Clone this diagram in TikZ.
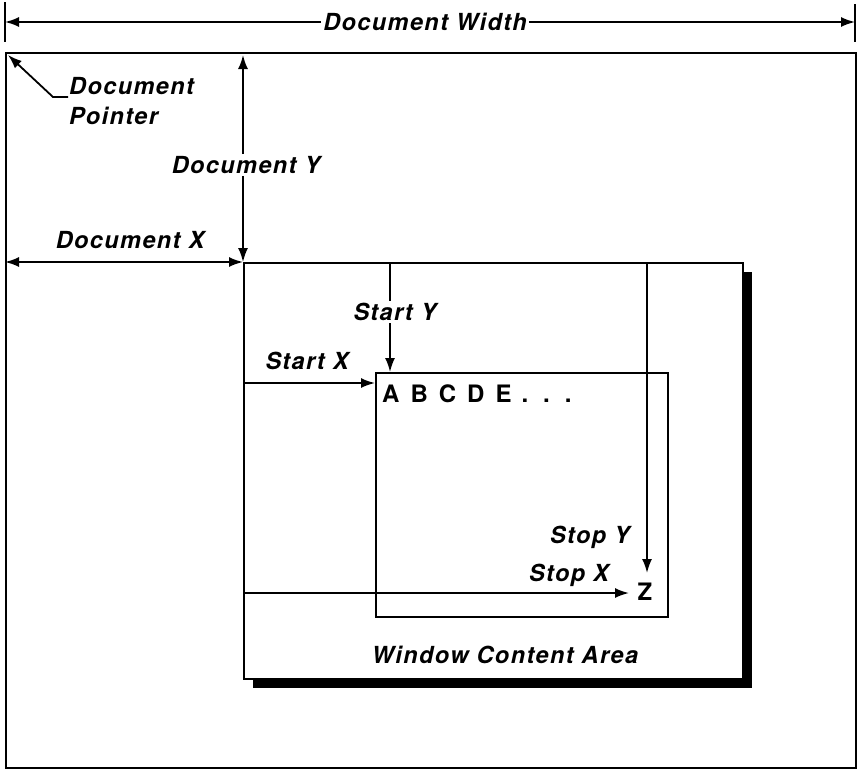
\documentclass[tikz,border=0pt]{standalone}
\usepackage{fontspec}
\setmainfont{TeX Gyre Heros}
\newfontfamily\lblfont[LetterSpace=6]{TeX Gyre Heros}
\usetikzlibrary{arrows.meta}
\begin{document}
\begin{tikzpicture}[x=1pt,y=-1pt,
  lbl/.style={font=\lblfont\fontsize{23.5}{30}\selectfont\bfseries\itshape, inner sep=2pt},
  gap/.style={lbl, fill=white},
  up/.style={font=\lblfont\fontsize{24}{26}\selectfont\bfseries, inner sep=1pt},
  ln/.style={line width=1.8pt},
  arr/.style={ln, -{Latex[length=14pt,width=10pt]}},
  darr/.style={ln, {Latex[length=14pt,width=10pt]}-{Latex[length=14pt,width=10pt]}},
  box/.style={draw, line width=1.8pt, anchor=north west, inner sep=0pt}]
\useasboundingbox (0,0) rectangle (861,771);
\fill[white] (0,0) rectangle (861,771);

% outer document box
\node[box, minimum width=850pt, minimum height=715pt] (outer) at (5,52) {};

% document width dimension
\coordinate (tla) at (5,2); \coordinate (tlb) at (5,42);
\coordinate (tra) at (855,4); \coordinate (trb) at (855,42);
\draw[ln] (tla) -- (tlb);
\draw[ln] (tra) -- (trb);
\node[gap] (dw) at (425,22) {Document Width};
\coordinate (dwl) at (5,22); \coordinate (dwr) at (855,22);
\draw[arr] (dw.west) -- (dwl);
\draw[arr] (dw.east) -- (dwr);

% window with shadow
\fill[black] (253,272) rectangle (752,688);
\node[box, fill=white, minimum width=499pt, minimum height=416pt] (win) at (243,262) {};

% document pointer
\node[lbl, anchor=north west, align=left] (dp) at (67,75) {Document\\Pointer};
\coordinate (dpa) at (68,97); \coordinate (dpk) at (53,97); \coordinate (dptip) at (8,55);
\draw[arr] (dpa) -- (dpk) -- (dptip);

% document Y
\coordinate (dyt) at (243,55);
\node[gap] (dy) at (246,165) {Document Y};
\draw[arr] (dy.north -| win.north west) -- (dyt);
\draw[arr] (dy.south -| win.north west) -- (win.north west);

% document X
\node[lbl] (dx) at (130,240) {Document X};
\coordinate (dxl) at (5,262);
\draw[darr] (dxl) -- (win.north west);

% inner box
\node[box, minimum width=292pt, minimum height=244pt] (inner) at (375,372) {};

% start Y
\coordinate (syt) at (390,262); \coordinate (syb) at (390,372);
\node[gap] (sy) at (395,312) {Start Y};
\draw[ln] (syt) -- (sy.north -| syt);
\draw[arr] (sy.south -| syt) -- (syb);

% start X
\node[lbl] (sx) at (307,361) {Start X};
\coordinate (sxa) at (243,383); \coordinate (sxb) at (375,383);
\draw[arr] (sxa) -- (sxb);

% letters
\node[up, anchor=west] (abc) at (381,394) {A\hspace{11pt}B\hspace{11pt}C\hspace{11pt}D\hspace{11pt}E\hspace{10pt}.\hspace{15pt}.\hspace{15pt}.};

% stop Y
\coordinate (sta) at (647,262); \coordinate (stb) at (647,573);
\draw[arr] (sta) -- (stb);
\node[lbl] (sty) at (590,537) {Stop Y};

% stop X
\node[lbl] (stx) at (569,575) {Stop X};
\coordinate (sxc) at (243,593); \coordinate (sxd) at (629,593);
\draw[arr] (sxc) -- (sxd);
\node[up] (z) at (645,592) {Z};

% caption
\node[lbl] (wca) at (505,655) {Window Content Area};
\end{tikzpicture}
\end{document}
